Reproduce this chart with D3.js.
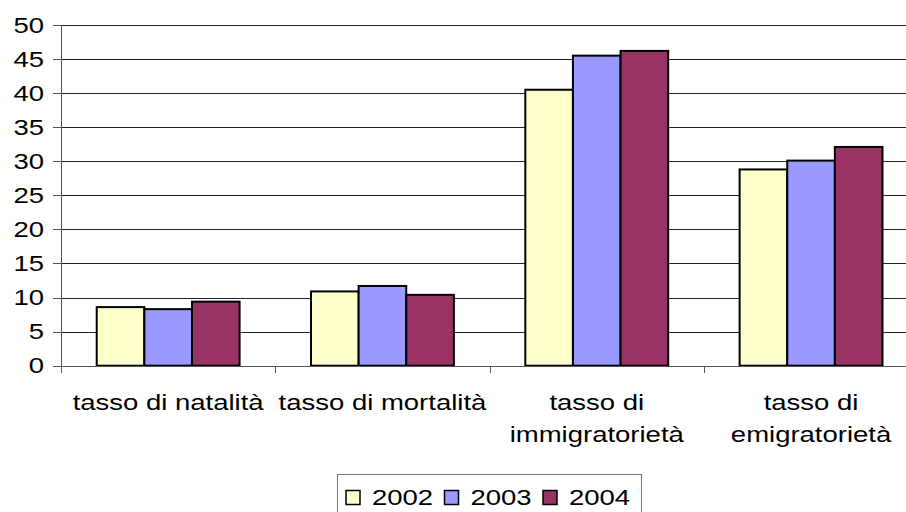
<!DOCTYPE html>
<html lang="it">

<head>
    <meta charset="UTF-8">
    <title>Tassi 2002-2004</title>
    <style>
        body {
            margin: 0;
            background: #fff;
        }

        svg {
            display: block;
            font-family: "Liberation Sans", Arial, sans-serif;
        }

        .grid line {
            stroke: #222;
            stroke-width: 1px;
            shape-rendering: crispEdges;
        }

        .grid path {
            stroke-width: 0;
        }

        .axis path,
        .axis line {
            stroke: #555;
            stroke-width: 1px;
            shape-rendering: crispEdges;
        }

        .axis text,
        .cat-label,
        .legend-label {
            font-size: 22px;
            fill: #000;
        }

        .bar {
            stroke: #000;
            stroke-width: 2px;
        }

        .legend-box {
            fill: #fff;
            stroke: #777;
            stroke-width: 1px;
        }

        .legend-swatch {
            stroke: #000;
            stroke-width: 1.5px;
        }
    </style>
</head>

<body>
    <script src="https://d3js.org/d3.v7.min.js"></script>
    <script>
        const categories = [
            ['tasso di natalità'],
            ['tasso di mortalità'],
            ['tasso di', 'immigratorietà'],
            ['tasso di', 'emigratorietà'],
        ];
        const years = ['2002', '2003', '2004'];
        const values2002 = [8.6, 10.9, 40.5, 28.8];
        const values2003 = [8.3, 11.7, 45.5, 30.1];
        const values2004 = [9.4, 10.4, 46.2, 32.1];
        const colors = ['#FFFFCC', '#9999FF', '#993366'];
        const yTicks = [0, 5, 10, 15, 20, 25, 30, 35, 40, 45, 50];

        const width = 906;
        const height = 512;
        const plotLeft = 61;
        const bandStep = 214.3;
        const plotTop = 25;
        const plotBottom = 365.7;
        const stretch = 1.25; // text in the picture is stretched horizontally

        const series = [values2002, values2003, values2004];
        const keys = categories.map(c => c.join(' '));
        const data = keys.map((k, i) => ({
            key: k,
            lines: categories[i],
            values: years.map((y, j) => ({ year: y, value: series[j][i], color: colors[j] })),
        }));

        const xScale = d3.scaleBand()
            .domain(keys)
            .range([plotLeft, plotLeft + bandStep * keys.length]);
        const xInner = d3.scaleBand()
            .domain(years)
            .range([0, xScale.bandwidth()])
            .paddingInner(0)
            .paddingOuter(0.75);
        const yScale = d3.scaleLinear()
            .domain([0, 50])
            .range([plotBottom, plotTop]);

        const svg = d3.select('body')
            .append('svg')
            .attr('width', width)
            .attr('height', height);

        // horizontal gridlines
        svg.append('g')
            .attr('class', 'grid')
            .attr('transform', `translate(${plotLeft}, 0)`)
            .call(d3.axisLeft(yScale)
                .tickValues(yTicks)
                .tickSize(-(width - plotLeft))
                .tickFormat(''));

        // y axis with outward ticks
        const yAxisG = svg.append('g')
            .attr('class', 'axis')
            .attr('transform', `translate(${plotLeft}, 0)`)
            .call(d3.axisLeft(yScale)
                .tickValues(yTicks)
                .tickSizeInner(8)
                .tickSizeOuter(0)
                .tickPadding(9));
        yAxisG.selectAll('text')
            .attr('x', -17 / stretch)
            .attr('transform', `scale(${stretch}, 1)`);

        // bars
        const groups = svg.selectAll('.group')
            .data(data)
            .enter().append('g')
            .attr('class', 'group')
            .attr('transform', d => `translate(${xScale(d.key)}, 0)`);

        groups.selectAll('rect')
            .data(d => d.values)
            .enter().append('rect')
            .attr('class', 'bar')
            .attr('x', d => xInner(d.year))
            .attr('width', xInner.bandwidth())
            .attr('y', d => yScale(d.value))
            .attr('height', d => yScale(0) - yScale(d.value))
            .attr('fill', d => d.color);

        // x axis with category boundary ticks
        const xAxisG = svg.append('g')
            .attr('class', 'axis')
            .attr('transform', `translate(0, ${plotBottom})`)
            .call(d3.axisBottom(xScale)
                .tickSizeInner(0)
                .tickSizeOuter(0)
                .tickFormat(''));
        xAxisG.selectAll('.tick').remove();
        xAxisG.selectAll('.sep')
            .data(keys)
            .enter().append('line')
            .attr('class', 'sep')
            .attr('x1', d => Math.round(xScale(d)) + 0.5)
            .attr('x2', d => Math.round(xScale(d)) + 0.5)
            .attr('y1', 0)
            .attr('y2', 7);

        // y axis line on top
        svg.append('line')
            .attr('x1', plotLeft + 0.5)
            .attr('x2', plotLeft + 0.5)
            .attr('y1', plotTop)
            .attr('y2', plotBottom)
            .attr('stroke', '#555')
            .attr('stroke-width', 1);

        // category labels
        const labels = svg.selectAll('.cat')
            .data(data)
            .enter().append('text')
            .attr('class', 'cat-label')
            .attr('text-anchor', 'middle')
            .attr('transform', d => `translate(${xScale(d.key) + xScale.bandwidth() / 2}, 410) scale(${stretch}, 1)`);
        labels.selectAll('tspan')
            .data(d => d.lines)
            .enter().append('tspan')
            .attr('x', 0)
            .attr('dy', (d, i) => i === 0 ? 0 : 32)
            .text(d => d);

        // legend
        const legendX = 337;
        const legendY = 474;
        const itemStep = 98.5;
        svg.append('rect')
            .attr('class', 'legend-box')
            .attr('x', legendX + 0.5)
            .attr('y', legendY + 0.5)
            .attr('width', 304)
            .attr('height', 60);

        const items = svg.selectAll('.legend-item')
            .data(years)
            .enter().append('g')
            .attr('class', 'legend-item')
            .attr('transform', (d, i) => `translate(${legendX + 9 + i * itemStep}, ${legendY})`);
        items.append('rect')
            .attr('class', 'legend-swatch')
            .attr('x', 0)
            .attr('y', 16.5)
            .attr('width', 14)
            .attr('height', 14)
            .attr('fill', (d, i) => colors[i]);
        items.append('text')
            .attr('class', 'legend-label')
            .attr('transform', `translate(26, 31) scale(${stretch}, 1)`)
            .text(d => d);
    </script>
</body>

</html>
